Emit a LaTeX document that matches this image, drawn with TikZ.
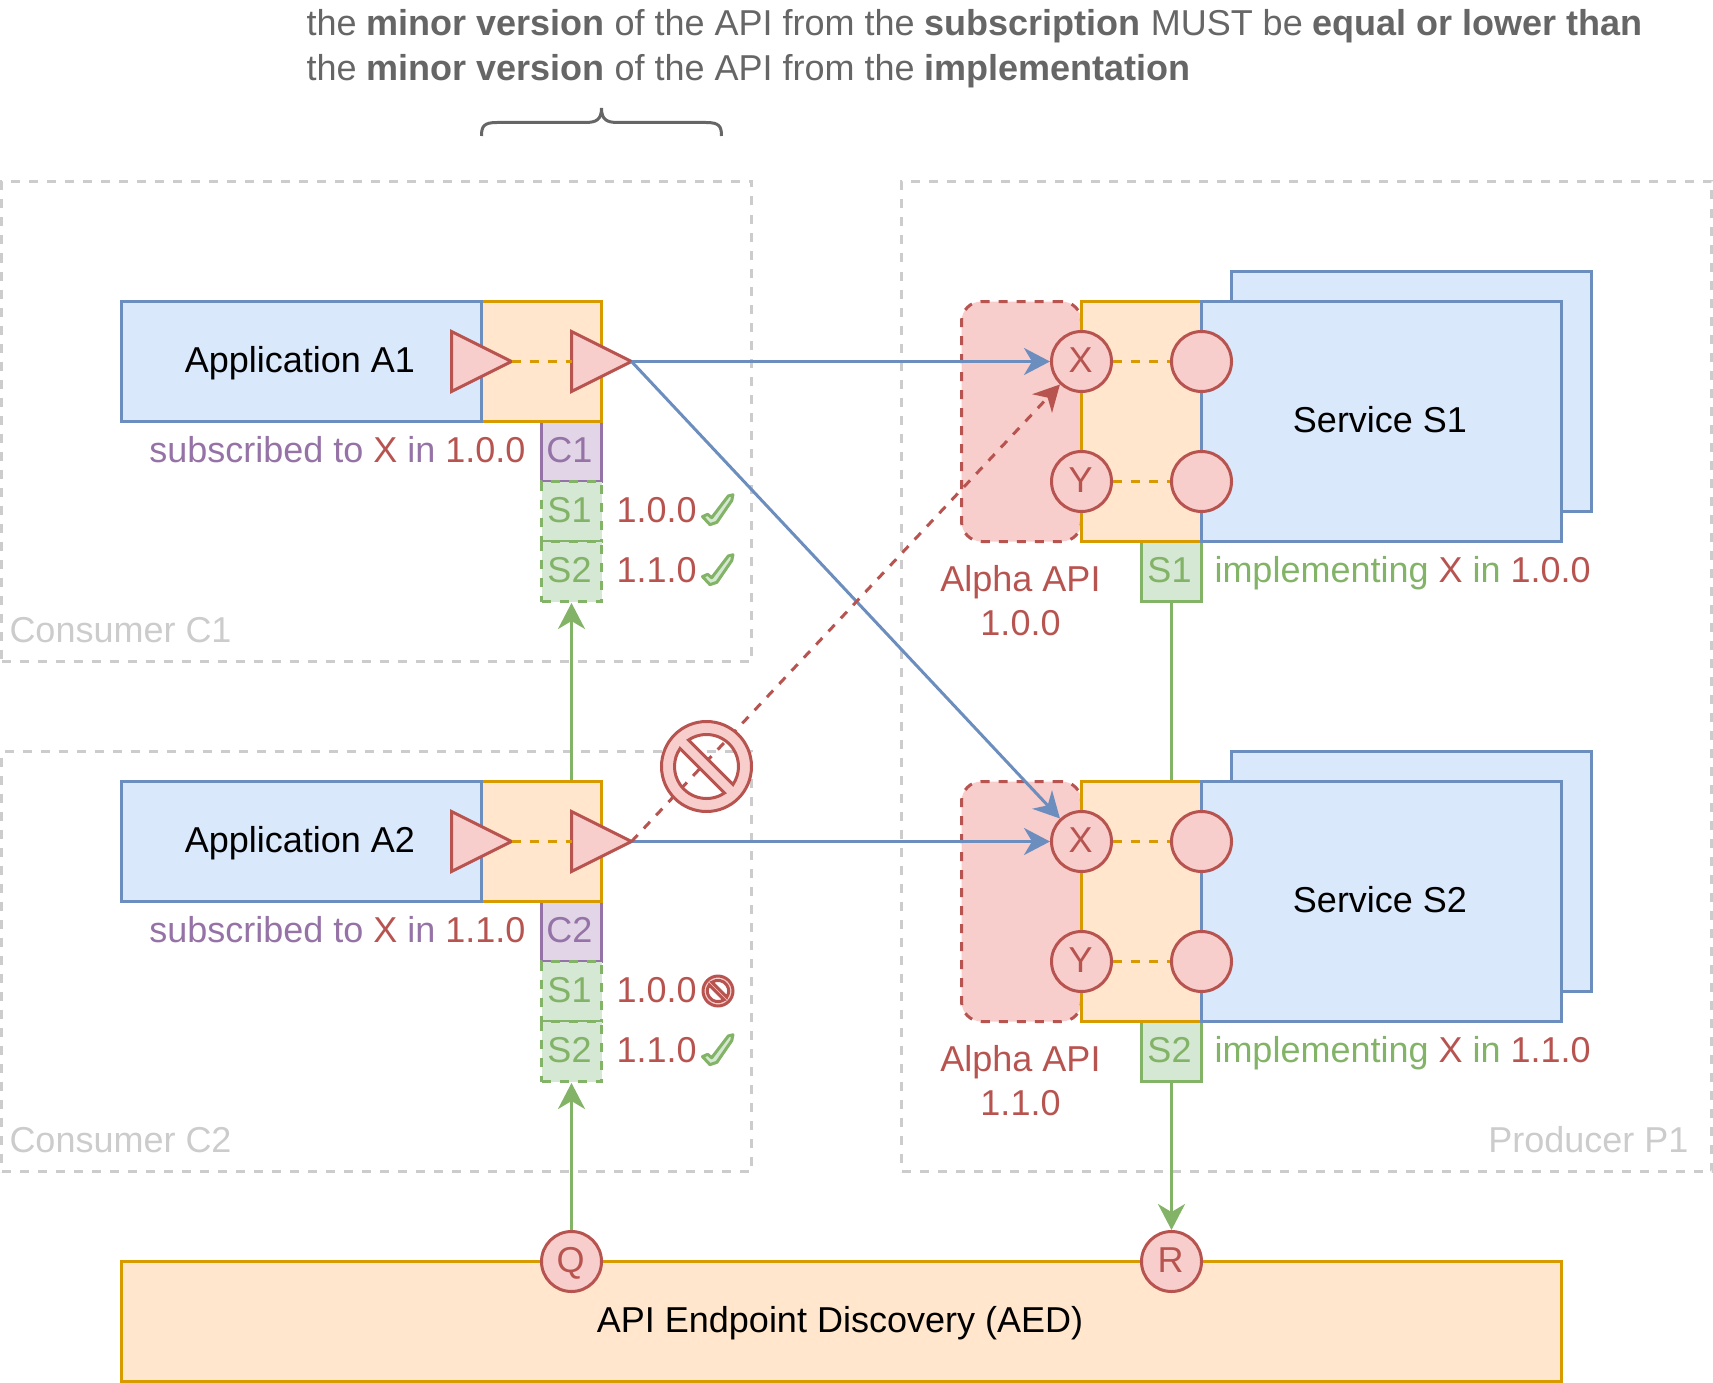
\documentclass[tikz,border=0pt]{standalone}
\usepackage{fontspec}
\setmainfont{Liberation Sans}
\usetikzlibrary{shapes.geometric,arrows.meta}
\definecolor{blueline}{HTML}{6C8EBF}
\definecolor{bluefill}{HTML}{DAE8FC}
\definecolor{orangeline}{HTML}{D79B00}
\definecolor{orangefill}{HTML}{FFE6CC}
\definecolor{redline}{HTML}{B85450}
\definecolor{redfill}{HTML}{F8CECC}
\definecolor{greenline}{HTML}{82B366}
\definecolor{greenfill}{HTML}{D5E8D4}
\definecolor{purpleline}{HTML}{9673A6}
\definecolor{purplefill}{HTML}{E1D5E7}
\definecolor{zonegrey}{HTML}{CCCCCC}
\definecolor{notegrey}{HTML}{666666}
\newcommand{\redtxt}[1]{\textcolor{redline}{#1}}
\tikzset{
  txt/.style={font=\fontsize{36}{44}\selectfont,inner sep=0pt},
  box/.style={txt,draw,rectangle,text height=32.6pt,text depth=11.6pt},
  bluebox/.style={box,draw=blueline,fill=bluefill,text=black,execute at end node={\hspace{3pt}}},
  orangebox/.style={box,draw=orangeline,fill=orangefill,text=black,execute at end node={\hspace{3pt}}},
  purpletag/.style={box,draw=purpleline,fill=purplefill,text=purpleline,minimum width=60pt,minimum height=60pt,execute at end node={\hspace{4pt}}},
  greentag/.style={box,draw=greenline,fill=greenfill,text=greenline,minimum width=60pt,minimum height=60pt,execute at end node={\hspace{4pt}}},
  dashtag/.style={greentag,dash pattern=on 9pt off 9pt},
  zone/.style={draw=zonegrey,dash pattern=on 9pt off 9pt,rectangle},
  zonetxt/.style={txt,text=zonegrey},
  apipool/.style={draw=redline,fill=redfill,rectangle,rounded corners=20pt,dash pattern=on 9pt off 9pt},
  port/.style={txt,draw=redline,fill=redfill,text=redline,circle,minimum size=60pt,text height=32.6pt,text depth=10.6pt,execute at end node={\hspace{2pt}}},
  tri/.style={draw=redline,fill=redfill,isosceles triangle,isosceles triangle stretches,
    minimum width=60pt,minimum height=60pt,inner sep=0pt,outer sep=0pt,anchor=lower side},
  link/.style={draw=orangeline,dash pattern=on 9pt off 9pt},
  blueflow/.style={draw=blueline,-{Stealth[length=26pt,width=27pt,inset=8pt]}},
  redflow/.style={draw=redline,dash pattern=on 9pt off 9pt,-{Stealth[length=26pt,width=27pt,inset=8pt]}},
  greenflow/.style={draw=greenline,-{Stealth[length=26pt,width=27pt,inset=8pt]}},
  greenlink/.style={draw=greenline},
  noentry/.pic={
    \path[draw=redline,fill=redfill,even odd rule]
      (0,0) circle[radius=45]
      (55.8:32) arc[start angle=55.8,end angle=214.2,radius=32] -- cycle
      (235.8:32) arc[start angle=235.8,end angle=394.2,radius=32] -- cycle;
  },
  tick/.pic={
    \path[draw=greenline,fill=greenfill,line join=round,scale=1.15]
      (-13.5,4) -- (-9,2) -- (-5.5,5) -- (9,-14) -- (13,-15) -- (12,-10) -- (-1,9) -- (-7,11) -- cycle;
  }
}
\begin{document}
\begin{tikzpicture}[x=1pt,y=-1pt,line width=3pt]
  \useasboundingbox (0,0) rectangle (1713,1383);

  \node[zone,minimum width=750pt,minimum height=480pt] (zoneC1) at (376.5,421.5) {};
  \node[zone,minimum width=750pt,minimum height=420pt] (zoneC2) at (376.5,961.5) {};
  \node[zone,minimum width=810pt,minimum height=990pt] (zoneP1) at (1306.5,676.5) {};
  \node[zonetxt,anchor=west] (nameC1) at (8,630) {Consumer C1};
  \node[zonetxt,anchor=west] (nameC2) at (8,1140) {Consumer C2};
  \node[zonetxt,anchor=east] (nameP1) at (1690,1140) {Producer P1};

  \node[txt,font=\fontsize{36}{45}\selectfont,text=notegrey,anchor=west,align=left] (note) at (305,48.5)
    {the \textbf{minor version} of the API from the \textbf{subscription} MUST be \textbf{equal or lower than}\\
     the \textbf{minor version} of the API from the \textbf{implementation}};
  \coordinate (braceL) at (481.5,136);
  \coordinate (braceR) at (721.5,136);
  \draw[notegrey] (braceL) .. controls (481.5,126) and (484,122.5) .. (497,122.5) -- (585,122.5)
    .. controls (596,122.5) and (601.5,120) .. (601.5,108)
    .. controls (601.5,120) and (607,122.5) .. (618,122.5) -- (706,122.5)
    .. controls (719,122.5) and (721.5,126) .. (braceR);

  \node[purpletag] (tagC1) at (571.5,451.5) {C1};
  \node[dashtag] (tagA1) at (571.5,511.5) {S1};
  \node[dashtag] (tagA2) at (571.5,571.5) {S2};
  \node[orangebox,minimum width=120pt,minimum height=120pt] (ifaceA1) at (541.5,361.5) {};
  \node[bluebox,minimum width=360pt,minimum height=120pt] (appA1) at (301.5,361.5) {Application A1};
  \node[tri] (inA1) at (451.5,361.5) {};
  \node[tri] (outA1) at (571.5,361.5) {};
  \node[txt,anchor=east,text=purpleline] (subC1) at (527,450) {subscribed to \redtxt{X} in \redtxt{1.0.0}};
  \node[txt,anchor=west,text=redline] (verA1) at (615,510) {1.0.0};
  \node[txt,anchor=west,text=redline] (verA2) at (615,570) {1.1.0};
  \pic at (718,512) {tick};
  \pic at (718,572) {tick};

  \node[purpletag] (tagC2) at (571.5,931.5) {C2};
  \node[dashtag] (tagB1) at (571.5,991.5) {S1};
  \node[dashtag] (tagB2) at (571.5,1051.5) {S2};
  \node[orangebox,minimum width=120pt,minimum height=120pt] (ifaceA2) at (541.5,841.5) {};
  \node[bluebox,minimum width=360pt,minimum height=120pt] (appA2) at (301.5,841.5) {Application A2};
  \node[tri] (inA2) at (451.5,841.5) {};
  \node[tri] (outA2) at (571.5,841.5) {};
  \node[txt,anchor=east,text=purpleline] (subC2) at (527,930) {subscribed to \redtxt{X} in \redtxt{1.1.0}};
  \node[txt,anchor=west,text=redline] (verB1) at (615,990) {1.0.0};
  \node[txt,anchor=west,text=redline] (verB2) at (615,1050) {1.1.0};
  \pic[scale=0.333] at (718,991) {noentry};
  \pic at (718,1052) {tick};

  \node[apipool,minimum width=120pt,minimum height=240pt] (alpha1) at (1021.5,421.5) {};
  \node[apipool,minimum width=120pt,minimum height=240pt] (alpha2) at (1021.5,901.5) {};
  \node[bluebox,minimum width=360pt,minimum height=240pt] (backS1) at (1411.5,391.5) {};
  \node[bluebox,minimum width=360pt,minimum height=240pt] (backS2) at (1411.5,871.5) {};
  \node[greentag] (tagS1) at (1171.5,571.5) {S1};
  \node[greentag] (tagS2) at (1171.5,1051.5) {S2};
  \node[orangebox,minimum width=120pt,minimum height=240pt] (ifaceS1) at (1141.5,421.5) {};
  \node[orangebox,minimum width=120pt,minimum height=240pt] (ifaceS2) at (1141.5,901.5) {};
  \node[bluebox,minimum width=360pt,minimum height=240pt] (servS1) at (1381.5,421.5) {Service S1};
  \node[bluebox,minimum width=360pt,minimum height=240pt] (servS2) at (1381.5,901.5) {Service S2};
  \node[port] (x1) at (1081.5,361.5) {X};
  \node[port] (y1) at (1081.5,481.5) {Y};
  \node[port] (px1) at (1201.5,361.5) {};
  \node[port] (py1) at (1201.5,481.5) {};
  \node[port] (x2) at (1081.5,841.5) {X};
  \node[port] (y2) at (1081.5,961.5) {Y};
  \node[port] (px2) at (1201.5,841.5) {};
  \node[port] (py2) at (1201.5,961.5) {};
  \node[txt,text=redline,align=center] (api1) at (1020.5,601) {Alpha API\\1.0.0};
  \node[txt,text=redline,align=center] (api2) at (1020.5,1081) {Alpha API\\1.1.0};
  \node[txt,anchor=west,text=greenline] (impl1) at (1213,573) {implementing \redtxt{X} in \redtxt{1.0.0}};
  \node[txt,anchor=west,text=greenline] (impl2) at (1213,1053) {implementing \redtxt{X} in \redtxt{1.1.0}};

  \node[orangebox,minimum width=1440pt,minimum height=120pt] (aed) at (841.5,1321.5) {API Endpoint Discovery (AED)};
  \node[port] (q) at (571.5,1261.5) {Q};
  \node[port] (r) at (1171.5,1261.5) {R};

  \draw[link] (inA1.apex) -- (outA1.lower side);
  \draw[link] (inA2.apex) -- (outA2.lower side);
  \draw[link] (x1) -- (px1);
  \draw[link] (y1) -- (py1);
  \draw[link] (x2) -- (px2);
  \draw[link] (y2) -- (py2);
  \draw[blueflow] (outA1.apex) -- (x1);
  \draw[blueflow] (outA1.apex) -- (x2);
  \draw[blueflow] (outA2.apex) -- (x2);
  \draw[redflow] (outA2.apex) -- (x1);
  \draw[greenflow] (tagA2.south |- ifaceA2.north) -- (tagA2.south);
  \draw[greenflow] (q) -- (tagB2);
  \draw[greenlink] (tagS1) -- (tagS1 |- ifaceS2.north);
  \draw[greenflow] (tagS2) -- (r);

  \pic at (706.5,766.5) {noentry};
\end{tikzpicture}
\end{document}
